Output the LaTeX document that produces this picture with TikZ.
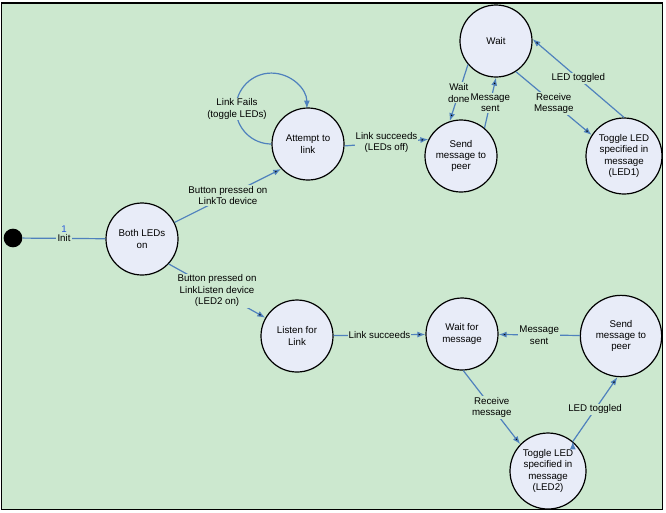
\documentclass[tikz,border=0pt]{standalone}
\usepackage{fontspec}
\setmainfont{Liberation Sans}
\usetikzlibrary{arrows.meta}

\definecolor{bggreen}{RGB}{204,232,207}
\definecolor{statefill}{RGB}{232,236,248}
\definecolor{edgeblue}{RGB}{79,129,189}
\definecolor{numblue}{RGB}{40,90,220}

\begin{document}
\begin{tikzpicture}[x=0.75pt,y=0.75pt,
    every node/.style={font=\fontsize{7.3}{8.6}\selectfont},
    state/.style={circle,draw=black,line width=0.9pt,fill=statefill,
        minimum size=54pt,inner sep=0pt,align=center},
    trans/.style={draw=edgeblue,line width=0.9pt,-{Latex[length=6pt,width=4.5pt]}},
    lbl/.style={fill=bggreen,inner sep=0.8pt,align=center}]
    \useasboundingbox (0,0) rectangle (666,-512);
    \draw[fill=bggreen,line width=1.4pt] (1.5,-3) rectangle (662.5,-509.5);

    \node[circle,fill=black,minimum size=14pt,inner sep=0pt] (s_init) at (13,-238) {};
    \node[state] (s_both) at (142,-239) {Both LEDs\\on};
    \node[state] (s_att) at (308,-144) {Attempt to\\link};
    \node[state] (s_wait) at (496,-41) {Wait};
    \node[state] (s_send1) at (461,-156) {Send\\message to\\peer};
    \node[state,minimum size=57pt] (s_tog1) at (624,-156) {Toggle LED\\specified in\\message\\(LED1)};
    \node[state] (s_listen) at (297,-336) {Listen for\\Link};
    \node[state] (s_waitmsg) at (462,-334) {Wait for\\message};
    \node[state,minimum size=61pt] (s_send2) at (621,-336) {Send\\message to\\peer};
    \node[state,minimum size=57pt] (s_tog2) at (548,-471) {Toggle LED\\specified in\\message\\(LED2)};

    \path[trans]
    (s_init) edge[-] node[lbl,label={[text=numblue,inner sep=0pt]above:1}] {Init} (s_both)
    (s_both.27) edge node[lbl] {Button pressed on\\LinkTo device} (s_att.223)
    (s_both.317) edge node[lbl] {Button pressed on\\LinkListen device\\(LED2 on)} (s_listen.150)
    (s_att.357) edge node[lbl] {Link succeeds\\(LEDs off)} (s_send1.153)
    (s_wait.220) edge node[lbl] {Wait\\done} (s_send1.108)
    (s_send1.50) edge node[lbl] {Message\\sent} (s_wait.270)
    (s_wait.303) edge node[lbl] {Receive\\Message} (s_tog1.147)
    (s_tog1.90) edge node[lbl] {LED toggled} (s_wait.3)
    (s_listen) edge node[lbl] {Link succeeds} (s_waitmsg)
    (s_waitmsg.272) edge node[lbl] {Receive\\message} (s_tog2.136)
    (s_tog2.50) edge node[lbl] {LED toggled} (s_send2.265)
    (s_send2) edge node[lbl] {Message\\sent} (s_waitmsg)
    ;

    % self loop on Attempt to link
    \draw[trans] (s_att.west) arc[start angle=270,end angle=0,radius=26.6pt];
    \node[lbl] (l_fail) at (237,-109) {Link Fails\\(toggle LEDs)};
\end{tikzpicture}
\end{document}
